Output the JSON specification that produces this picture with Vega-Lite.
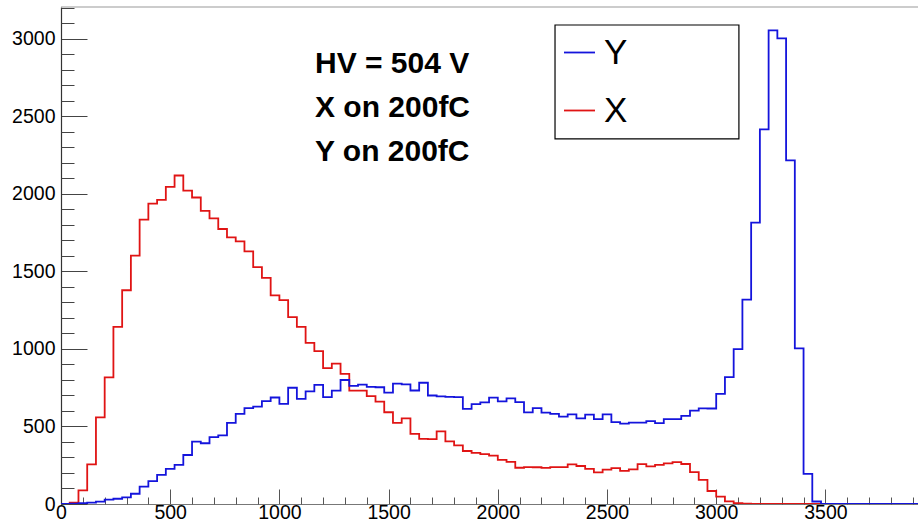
{
"$schema": "https://vega.github.io/schema/vega-lite/v6.json",
"width": 857, "height": 497,
"autosize": "none",
"padding": {"left": 61, "top": 7, "right": 0, "bottom": 25},
"background": "white",
"config": {"view": {"stroke": null}, "font": "Liberation Sans"},
"datasets": {"h": [
{"s":"X","lo":0,"n":0},{"s":"X","lo":40,"n":8},{"s":"X","lo":80,"n":88},{"s":"X","lo":120,"n":256},{"s":"X","lo":160,"n":559},{"s":"X","lo":200,"n":817},{"s":"X","lo":240,"n":1142},{"s":"X","lo":280,"n":1379},{"s":"X","lo":320,"n":1602},{"s":"X","lo":360,"n":1834},
{"s":"X","lo":400,"n":1938},{"s":"X","lo":440,"n":1962},{"s":"X","lo":480,"n":2046},{"s":"X","lo":520,"n":2119},{"s":"X","lo":560,"n":2022},{"s":"X","lo":600,"n":1977},{"s":"X","lo":640,"n":1891},{"s":"X","lo":680,"n":1842},{"s":"X","lo":720,"n":1774},{"s":"X","lo":760,"n":1720},
{"s":"X","lo":800,"n":1694},{"s":"X","lo":840,"n":1629},{"s":"X","lo":880,"n":1528},{"s":"X","lo":920,"n":1459},{"s":"X","lo":960,"n":1346},{"s":"X","lo":1000,"n":1315},{"s":"X","lo":1040,"n":1206},{"s":"X","lo":1080,"n":1143},{"s":"X","lo":1120,"n":1040},{"s":"X","lo":1160,"n":986},
{"s":"X","lo":1200,"n":877},{"s":"X","lo":1240,"n":906},{"s":"X","lo":1280,"n":839},{"s":"X","lo":1320,"n":731},{"s":"X","lo":1360,"n":731},{"s":"X","lo":1400,"n":696},{"s":"X","lo":1440,"n":660},{"s":"X","lo":1480,"n":592},{"s":"X","lo":1520,"n":523},{"s":"X","lo":1560,"n":552},
{"s":"X","lo":1600,"n":452},{"s":"X","lo":1640,"n":420},{"s":"X","lo":1680,"n":418},{"s":"X","lo":1720,"n":468},{"s":"X","lo":1760,"n":404},{"s":"X","lo":1800,"n":378},{"s":"X","lo":1840,"n":342},{"s":"X","lo":1880,"n":330},{"s":"X","lo":1920,"n":322},{"s":"X","lo":1960,"n":312},
{"s":"X","lo":2000,"n":285},{"s":"X","lo":2040,"n":272},{"s":"X","lo":2080,"n":234},{"s":"X","lo":2120,"n":238},{"s":"X","lo":2160,"n":237},{"s":"X","lo":2200,"n":233},{"s":"X","lo":2240,"n":238},{"s":"X","lo":2280,"n":238},{"s":"X","lo":2320,"n":255},{"s":"X","lo":2360,"n":245},
{"s":"X","lo":2400,"n":226},{"s":"X","lo":2440,"n":204},{"s":"X","lo":2480,"n":222},{"s":"X","lo":2520,"n":232},{"s":"X","lo":2560,"n":214},{"s":"X","lo":2600,"n":224},{"s":"X","lo":2640,"n":257},{"s":"X","lo":2680,"n":243},{"s":"X","lo":2720,"n":253},{"s":"X","lo":2760,"n":262},
{"s":"X","lo":2800,"n":270},{"s":"X","lo":2840,"n":258},{"s":"X","lo":2880,"n":206},{"s":"X","lo":2920,"n":155},{"s":"X","lo":2960,"n":84},{"s":"X","lo":3000,"n":47},{"s":"X","lo":3040,"n":17},{"s":"X","lo":3080,"n":6},{"s":"X","lo":3120,"n":2},{"s":"X","lo":3160,"n":0},
{"s":"X","lo":3200,"n":0},{"s":"X","lo":3240,"n":0},{"s":"X","lo":3280,"n":0},{"s":"X","lo":3320,"n":0},{"s":"X","lo":3360,"n":0},{"s":"X","lo":3400,"n":0},{"s":"X","lo":3440,"n":0},{"s":"X","lo":3480,"n":0},{"s":"X","lo":3520,"n":0},{"s":"X","lo":3560,"n":0},
{"s":"X","lo":3600,"n":0},{"s":"X","lo":3640,"n":0},{"s":"X","lo":3680,"n":0},{"s":"X","lo":3720,"n":0},{"s":"X","lo":3760,"n":0},{"s":"X","lo":3800,"n":0},{"s":"X","lo":3840,"n":0},{"s":"X","lo":3880,"n":0},{"s":"X","lo":3920,"n":0},{"s":"X","lo":3960,"n":0},{"s":"X","lo":4000,"n":0},
{"s":"Y","lo":0,"n":0},{"s":"Y","lo":40,"n":2},{"s":"Y","lo":80,"n":6},{"s":"Y","lo":120,"n":9},{"s":"Y","lo":160,"n":15},{"s":"Y","lo":200,"n":28},{"s":"Y","lo":240,"n":34},{"s":"Y","lo":280,"n":43},{"s":"Y","lo":320,"n":66},{"s":"Y","lo":360,"n":112},
{"s":"Y","lo":400,"n":147},{"s":"Y","lo":440,"n":188},{"s":"Y","lo":480,"n":226},{"s":"Y","lo":520,"n":253},{"s":"Y","lo":560,"n":316},{"s":"Y","lo":600,"n":402},{"s":"Y","lo":640,"n":392},{"s":"Y","lo":680,"n":431},{"s":"Y","lo":720,"n":443},{"s":"Y","lo":760,"n":523},
{"s":"Y","lo":800,"n":581},{"s":"Y","lo":840,"n":618},{"s":"Y","lo":880,"n":628},{"s":"Y","lo":920,"n":663},{"s":"Y","lo":960,"n":687},{"s":"Y","lo":1000,"n":646},{"s":"Y","lo":1040,"n":750},{"s":"Y","lo":1080,"n":678},{"s":"Y","lo":1120,"n":726},{"s":"Y","lo":1160,"n":768},
{"s":"Y","lo":1200,"n":689},{"s":"Y","lo":1240,"n":731},{"s":"Y","lo":1280,"n":800},{"s":"Y","lo":1320,"n":762},{"s":"Y","lo":1360,"n":770},{"s":"Y","lo":1400,"n":755},{"s":"Y","lo":1440,"n":753},{"s":"Y","lo":1480,"n":718},{"s":"Y","lo":1520,"n":776},{"s":"Y","lo":1560,"n":772},
{"s":"Y","lo":1600,"n":732},{"s":"Y","lo":1640,"n":782},{"s":"Y","lo":1680,"n":700},{"s":"Y","lo":1720,"n":694},{"s":"Y","lo":1760,"n":691},{"s":"Y","lo":1800,"n":689},{"s":"Y","lo":1840,"n":614},{"s":"Y","lo":1880,"n":644},{"s":"Y","lo":1920,"n":655},{"s":"Y","lo":1960,"n":686},
{"s":"Y","lo":2000,"n":662},{"s":"Y","lo":2040,"n":682},{"s":"Y","lo":2080,"n":657},{"s":"Y","lo":2120,"n":591},{"s":"Y","lo":2160,"n":618},{"s":"Y","lo":2200,"n":589},{"s":"Y","lo":2240,"n":582},{"s":"Y","lo":2280,"n":563},{"s":"Y","lo":2320,"n":578},{"s":"Y","lo":2360,"n":552},
{"s":"Y","lo":2400,"n":576},{"s":"Y","lo":2440,"n":547},{"s":"Y","lo":2480,"n":578},{"s":"Y","lo":2520,"n":528},{"s":"Y","lo":2560,"n":518},{"s":"Y","lo":2600,"n":525},{"s":"Y","lo":2640,"n":525},{"s":"Y","lo":2680,"n":535},{"s":"Y","lo":2720,"n":522},{"s":"Y","lo":2760,"n":548},
{"s":"Y","lo":2800,"n":548},{"s":"Y","lo":2840,"n":569},{"s":"Y","lo":2880,"n":602},{"s":"Y","lo":2920,"n":617},{"s":"Y","lo":2960,"n":616},{"s":"Y","lo":3000,"n":711},{"s":"Y","lo":3040,"n":818},{"s":"Y","lo":3080,"n":999},{"s":"Y","lo":3120,"n":1318},{"s":"Y","lo":3160,"n":1815},
{"s":"Y","lo":3200,"n":2417},{"s":"Y","lo":3240,"n":3055},{"s":"Y","lo":3280,"n":3004},{"s":"Y","lo":3320,"n":2217},{"s":"Y","lo":3360,"n":1004},{"s":"Y","lo":3400,"n":194},{"s":"Y","lo":3440,"n":16},{"s":"Y","lo":3480,"n":0},{"s":"Y","lo":3520,"n":0},{"s":"Y","lo":3560,"n":0},
{"s":"Y","lo":3600,"n":0},{"s":"Y","lo":3640,"n":0},{"s":"Y","lo":3680,"n":0},{"s":"Y","lo":3720,"n":0},{"s":"Y","lo":3760,"n":0},{"s":"Y","lo":3800,"n":0},{"s":"Y","lo":3840,"n":0},{"s":"Y","lo":3880,"n":0},{"s":"Y","lo":3920,"n":0},{"s":"Y","lo":3960,"n":0},{"s":"Y","lo":4000,"n":0}
]},
"resolve": {"axis": {"x": "independent", "y": "independent"}},
"layer": [
 {"data": {"values": [{}]},
  "mark": {"type": "rule", "color": "#999", "strokeWidth": 1.2, "clip": false},
  "encoding": {
   "y": {"datum": 3206, "type": "quantitative", "axis": null}
  }},
 {"data": {"values": [{}]},
  "mark": {"type": "rect", "fill": "white", "stroke": "black", "strokeWidth": 1.2},
  "encoding": {
   "x": {"datum": 2262, "type": "quantitative", "axis": null}, "x2": {"datum": 3104},
   "y": {"datum": 3090, "type": "quantitative", "axis": null}, "y2": {"datum": 2355}
  }},
 {"data": {"name": "h"},
  "mark": {"type": "line", "interpolate": "step-after", "strokeWidth": 1.8, "clip": true},
  "encoding": {
   "x": {"field": "lo", "type": "quantitative",
     "scale": {"domain": [0, 3924], "nice": false, "zero": false},
     "axis": {"title": null, "orient": "bottom", "values": [0,500,1000,1500,2000,2500,3000,3500],
       "format": "d", "tickSize": -15,
       "labelPadding": 14, "labelFontSize": 19.5, "labelFont": "Liberation Sans", "labelColor": "black",
       "labelFlush": false, "labelOverlap": false, "grid": false,
       "domainColor": "#777", "domainWidth": 1.2, "tickColor": "#555", "tickWidth": 1}},
   "y": {"field": "n", "type": "quantitative",
     "scale": {"domain": [0, 3206], "nice": false},
     "axis": {"title": null, "orient": "left", "values": [0,500,1000,1500,2000,2500,3000],
       "format": "d", "tickSize": -26,
       "labelPadding": 32, "labelFontSize": 19.5, "labelFont": "Liberation Sans", "labelColor": "black",
       "labelFlush": false, "labelOverlap": false, "grid": false,
       "domainColor": "#333", "domainWidth": 1.2, "tickColor": "#444", "tickWidth": 1}},
   "color": {"field": "s", "type": "nominal",
     "scale": {"domain": ["Y", "X"], "range": ["#1414dc", "#e01414"]},
     "legend": {"orient": "none", "legendX": 501, "legendY": 28, "title": null,
       "symbolType": "stroke", "symbolSize": 961, "symbolStrokeWidth": 1.8,
       "labelFontSize": 35, "labelFont": "Liberation Sans", "labelColor": "black",
       "labelOffset": 7, "rowPadding": 22, "padding": 0}}
  }},
 {"data": {"values": [{}]},
  "mark": {"type": "text", "text": "HV = 504 V\nX on 200fC\nY on 200fC", "lineBreak": "\n",
    "align": "left", "baseline": "alphabetic", "font": "Liberation Sans", "fontWeight": "bold",
    "fontSize": 30, "lineHeight": 44, "color": "black"},
  "encoding": {
   "x": {"datum": 1163, "type": "quantitative",
     "axis": {"title": null, "orient": "bottom", "values": [100,200,300,400,600,700,800,900,1100,1200,1300,1400,1600,1700,1800,1900,2100,2200,2300,2400,2600,2700,2800,2900,3100,3200,3300,3400,3600,3700,3800,3900],
       "labels": false, "domain": false, "grid": false, "tickSize": -7, "tickColor": "#555", "tickWidth": 1}},
   "y": {"datum": 2783, "type": "quantitative",
     "axis": {"title": null, "orient": "left", "values": [100,200,300,400,600,700,800,900,1100,1200,1300,1400,1600,1700,1800,1900,2100,2200,2300,2400,2600,2700,2800,2900,3100,3200],
       "labels": false, "domain": false, "grid": false, "tickSize": -13, "tickColor": "#444", "tickWidth": 1}}
  }}
]
}
